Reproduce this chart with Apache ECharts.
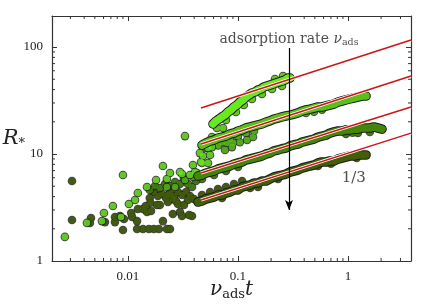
<!DOCTYPE html>
<html><head><meta charset="utf-8">
<script src="https://cdn.jsdelivr.net/npm/echarts@6/dist/echarts.min.js"></script>
<style>html,body{margin:0;padding:0;background:#fff}#c{width:436px;height:305px}</style>
</head><body><div id="c"></div>
<script>
// ---------- axes ----------
const X_MIN = 0.00204, X_MAX = 3.74;
const Y_MIN = 1, Y_MAX = 195;
const X_TICKS = [0.01, 0.1, 1];
const X_TICK_LABELS = ['0.01', '0.1', '1'];
const Y_TICKS = [1, 10, 100];
const Y_TICK_LABELS = ['1', '10', '100'];
const X_MINOR = [0.003,0.004,0.005,0.006,0.007,0.008,0.009,0.02,0.03,0.04,0.05,0.06,0.07,0.08,0.09,0.2,0.3,0.4,0.5,0.6,0.7,0.8,0.9,2,3];
const Y_MINOR = [2,3,4,5,6,7,8,9,20,30,40,50,60,70,80,90];

// ---------- data (nu_ads t, R*) ----------
// dense trajectories ("worms") read along each band
const A_PATH = [[0.0593,19.1],[0.0631,20.3],[0.0672,21.2],[0.0715,22.2],[0.0762,23.1],[0.0811,24.7],[0.0864,25.8],[0.0920,27.5],[0.0979,28.7],[0.104,30.6],[0.111,32.0],[0.118,34.1],[0.126,35.6],[0.134,37.2],[0.143,38.0],[0.152,39.6],[0.162,40.5],[0.172,42.3],[0.183,43.2],[0.195,44.1],[0.208,45.1],[0.222,46.1],[0.236,47.1],[0.251,48.1],[0.268,49.2],[0.285,51.3],[0.297,51.3]];
const A_EXTRA = [[0.0644,17.5],[0.0778,20.8],[0.0959,24.7],[0.113,28.7],[0.134,32.7],[0.165,36.4],[0.204,40.5],[0.251,43.2],[0.217,50.2],[0.257,53.6]];
const A_SCATTER = [[0.00267,1.68],[0.00424,2.27],[0.0058,2.36],[0.00605,2.81],[0.0073,3.27],[0.00864,2.58],[0.00901,6.36],[0.0102,3.41],[0.0116,3.72],[0.0123,4.32],[0.0149,4.92],[0.0180,5.71],[0.0208,7.73],[0.0226,5.84],[0.0297,6.79],[0.0310,6.50],[0.0330,14.7],[0.0366,6.36],[0.0390,7.89],[0.0406,6.79],[0.0424,6.64],[0.0241,6.64],[0.0461,8.42],[0.0481,9.58],[0.0471,8.24],[0.0534,11.4],[0.0534,8.24],[0.0557,9.79],[0.0580,11.6],[0.0451,10.2],[0.058,14.4],[0.0731,17.5]];
const B_PATH = [[0.0471,12.1],[0.0512,12.7],[0.0557,13.2],[0.0605,13.5],[0.0658,14.1],[0.0716,14.4],[0.0778,14.7],[0.0846,15.4],[0.0920,15.7],[0.100,16.4],[0.109,16.8],[0.118,17.5],[0.129,17.9],[0.140,18.3],[0.152,18.7],[0.165,19.1],[0.180,19.9],[0.195,20.4],[0.212,21.2],[0.231,21.7],[0.251,22.2],[0.273,22.7],[0.297,23.1],[0.323,23.6],[0.351,24.2],[0.382,25.2],[0.415,25.8],[0.451,26.3],[0.491,26.9],[0.534,27.5],[0.580,27.5],[0.631,28.1],[0.686,28.7],[0.746,29.3],[0.811,30.6],[0.882,31.3],[0.959,32.0],[1.04,32.7],[1.13,33.4],[1.23,34.1],[1.34,34.8],[1.46,34.8]];
const B_EXTRA = [[0.0512,11.4],[0.0605,12.1],[0.0716,12.9],[0.0846,13.8],[0.100,14.7],[0.118,15.7],[0.140,16.4],[0.415,24.2],[0.491,24.8],[0.580,26.0]];
const B_SCATTER = [[0.0794,12.7],[0.0901,12.7],[0.104,12.9],[0.121,13.5],[0.137,14.4],[0.0762,10.9],[0.0882,11.6],[0.0268,4.92],[0.0226,4.92],[0.0330,5.71],[0.0390,6.10],[0.0660,12.0]];
const C_PATH = [[0.0433,6.23],[0.0471,6.36],[0.0512,6.64],[0.0557,6.79],[0.0605,6.94],[0.0658,7.24],[0.0716,7.40],[0.0778,7.56],[0.0846,7.73],[0.0920,8.06],[0.100,8.24],[0.109,8.42],[0.118,8.79],[0.129,8.98],[0.140,9.18],[0.152,9.38],[0.165,9.58],[0.180,10.0],[0.195,10.2],[0.212,10.7],[0.231,10.9],[0.251,11.2],[0.273,11.4],[0.297,11.9],[0.323,12.2],[0.351,12.4],[0.382,12.9],[0.415,13.2],[0.451,13.5],[0.491,13.8],[0.534,14.4],[0.580,14.7],[0.631,15.0],[0.686,15.7],[0.746,16.1],[0.811,16.4],[0.882,16.4],[0.959,16.8],[1.04,16.8],[1.13,17.1],[1.23,17.1],[1.34,17.5],[1.46,17.5],[1.58,17.5],[1.72,17.9],[1.87,17.5],[2.04,17.1]];
const C_EXTRA = [[0.959,15.4],[1.23,15.7],[1.58,16.1],[1.10,15.8],[0.0471,5.84],[0.0605,6.36],[0.0778,6.94],[0.100,7.56]];
const C_SCATTER = [[0.0158,4.61],[0.0176,5.02],[0.0195,4.81],[0.0217,5.24],[0.0241,5.02],[0.0268,5.47],[0.0297,5.24],[0.0323,5.84],[0.0351,5.24],[0.0382,4.92],[0.0415,5.59],[0.0442,5.97],[0.0406,6.10]];
const D_PATH = [[0.0433,3.56],[0.0471,3.64],[0.0512,3.80],[0.0557,3.88],[0.0605,3.96],[0.0658,4.14],[0.0716,4.14],[0.0778,4.32],[0.0846,4.41],[0.0920,4.61],[0.100,4.61],[0.109,4.92],[0.118,5.02],[0.129,5.13],[0.140,5.36],[0.152,5.36],[0.165,5.59],[0.180,5.59],[0.195,5.84],[0.212,6.10],[0.231,6.23],[0.251,6.36],[0.273,6.50],[0.297,6.79],[0.323,6.94],[0.351,7.09],[0.382,7.40],[0.415,7.56],[0.451,7.73],[0.491,7.89],[0.534,8.24],[0.580,8.42],[0.631,8.42],[0.686,8.60],[0.746,8.60],[0.811,8.98],[0.882,9.18],[0.959,9.38],[1.04,9.58],[1.13,9.58],[1.23,9.79],[1.34,9.79],[1.46,9.79]];
const D_EXTRA = [[0.0471,4.14],[0.0557,4.41],[0.0658,4.71],[0.0778,4.92],[0.092,5.24],[0.109,5.59],[0.129,4.81],[0.152,4.92],[0.0716,3.88],[0.534,7.73],[0.231,5.84],[1.20,9.20],[0.70,8.10]];
const D_SCATTER = [[0.0158,3.88],[0.0172,4.41],[0.0187,4.05],[0.0204,4.23],[0.0222,3.88],[0.0241,4.32],[0.0262,4.05],[0.0285,4.41],[0.0310,4.14],[0.0337,4.41],[0.0366,4.05],[0.0398,3.80],[0.0351,3.72],[0.0323,3.34],[0.0273,3.64],[0.0231,3.56],[0.0195,3.34],[0.0183,3.34],[0.0231,4.14],
  [0.0031,5.59],[0.0031,2.42],[0.00461,2.52],[0.00451,2.27],[0.00618,2.31],[0.00762,2.58],[0.00762,2.31],[0.00846,2.63],[0.0092,2.47],[0.00901,1.95],[0.0107,2.81],[0.0109,2.58],[0.0121,2.36],[0.0121,1.99],[0.0137,3.06],[0.0137,1.99],[0.0149,2.87],[0.0155,1.99],[0.0162,2.93],[0.0172,1.99],[0.0191,1.99],[0.0208,2.36],[0.0226,1.99],[0.0241,1.99],[0.0256,2.75],[0.0297,2.87],[0.0310,2.63],[0.0359,2.69],[0.0382,2.63],[0.0256,3.80],[0.0285,3.41],[0.0123,3.06],[0.0145,3.27],[0.0160,3.50]];

// fitted slope-1/3 lines: x endpoints and R* at those endpoints
const FIT_X = [0.0461, 3.74];
const FIT_1 = [26.9, 116.3];
const FIT_2 = [12.4, 53.6];
const FIT_3 = [6.64, 27.5];
const FIT_4 = [3.72, 15.7];

// annotations
const ARROW_X = [0.291, 0.291];
const ARROW_Y = [97.9, 3.0];
const ANNOT_TOP = [0.291, 119];
const ANNOT_SLOPE = [1.13, 5.97];

const COLORS = {A:'#6ae81e', B:'#5abf16', C:'#44850a', D:'#425f08'};
const EDGE = '#1a1a1a';
const SERIF = '"Liberation Serif", "DejaVu Serif", serif';
const WSERIF = '"DejaVu Serif", "Liberation Serif", serif';
const AXC = '#333';

function fmt(ticks, labels) {
  return function (v) {
    for (let i = 0; i < ticks.length; i++) {
      if (Math.abs(Math.log10(v / ticks[i])) < 1e-6) return labels[i];
    }
    return '';
  };
}

function group(path, dots, color) {
  return [
    {type: 'line', data: path, symbol: 'none', silent: true, lineStyle: {color: EDGE, width: 9.6, cap: 'round', join: 'round'}},
    {type: 'scatter', data: dots, symbolSize: 8.6, itemStyle: {color: EDGE}, silent: true},
    {type: 'line', data: path, symbol: 'none', silent: true, lineStyle: {color: color, width: 7.6, cap: 'round', join: 'round'}},
    {type: 'scatter', data: dots, symbolSize: 6.6, itemStyle: {color: color}, silent: true}
  ];
}

function fitLine(ys) {
  const d = [[FIT_X[0], ys[0]], [FIT_X[1], ys[1]]];
  return [
    {type: 'line', data: d, symbol: 'none', lineStyle: {color: '#ffffff', width: 3.2}, silent: true},
    {type: 'line', data: d, symbol: 'none', lineStyle: {color: '#cc1414', width: 1.4}, silent: true}
  ];
}

const minorData = X_MINOR.map(v => [v, Y_MIN, 0]).concat(Y_MINOR.map(v => [X_MIN, v, 1]));

const series = []
  .concat(group(D_PATH, D_SCATTER.concat(D_EXTRA), COLORS.D))
  .concat(group(C_PATH, C_SCATTER.concat(C_EXTRA), COLORS.C))
  .concat(group(B_PATH, B_SCATTER.concat(B_EXTRA), COLORS.B))
  .concat(group(A_PATH, A_SCATTER.concat(A_EXTRA), COLORS.A))
  .concat(fitLine(FIT_1), fitLine(FIT_2), fitLine(FIT_3), fitLine(FIT_4));

series.push({
  type: 'line', data: [], silent: true,
  markLine: {
    silent: true, symbol: ['none', 'arrow'], symbolSize: [6, 10],
    label: {show: false},
    lineStyle: {color: '#000', width: 1.2, type: 'solid'},
    data: [[{coord: [ARROW_X[0], ARROW_Y[0]]}, {coord: [ARROW_X[1], ARROW_Y[1]]}]]
  }
});
series.push({
  type: 'scatter', data: [ANNOT_TOP], symbolSize: 0, silent: true,
  label: {
    show: true, position: 'inside',
    formatter: '{t|adsorption rate }{i|ν}{s|ads}',
    rich: {
      t: {fontFamily: WSERIF, fontSize: 14, color: '#222'},
      i: {fontFamily: WSERIF, fontSize: 14, fontStyle: 'italic', color: '#222'},
      s: {fontFamily: WSERIF, fontSize: 9.5, color: '#222', padding: [7, 0, 0, 0]}
    }
  }
});
series.push({
  type: 'scatter', data: [ANNOT_SLOPE], symbolSize: 0, silent: true,
  label: {show: true, position: 'inside', formatter: '1/3', fontFamily: WSERIF, fontSize: 15, color: '#222'}
});
series.push({
  type: 'custom', data: minorData, silent: true, z: 10,
  renderItem: function (params, api) {
    const cs = params.coordSys;
    const kind = api.value(2);
    const p = api.coord([api.value(0), api.value(1)]);
    const L = 3;
    const style = {stroke: AXC, lineWidth: 1};
    if (kind === 0) {
      return {type: 'group', children: [
        {type: 'line', shape: {x1: p[0], y1: cs.y + cs.height, x2: p[0], y2: cs.y + cs.height - L}, style: style},
        {type: 'line', shape: {x1: p[0], y1: cs.y, x2: p[0], y2: cs.y + L}, style: style}
      ]};
    }
    return {type: 'group', children: [
      {type: 'line', shape: {x1: cs.x, y1: p[1], x2: cs.x + L, y2: p[1]}, style: style},
      {type: 'line', shape: {x1: cs.x + cs.width, y1: p[1], x2: cs.x + cs.width - L, y2: p[1]}, style: style}
    ]};
  }
});

const axisCommon = {
  type: 'log', logBase: 10,
  axisLine: {show: true, lineStyle: {color: AXC, width: 1.2}},
  axisTick: {show: true, inside: true, length: 5, lineStyle: {color: AXC, width: 1}},
  splitLine: {show: false}, minorTick: {show: false}, minorSplitLine: {show: false}
};

const option = {
  animation: false,
  backgroundColor: '#fff',
  grid: {left: 52, right: 25, top: 16, bottom: 44, containLabel: false, outerBoundsMode: 'none'},
  xAxis: [
    Object.assign({}, axisCommon, {
      min: X_MIN, max: X_MAX, position: 'bottom',
      axisLabel: {formatter: fmt(X_TICKS, X_TICK_LABELS), margin: 9, fontFamily: SERIF, fontSize: 13, color: '#222'},
      name: '{i|ν}{s|ads}{i|t}', nameLocation: 'middle', nameGap: 18, nameMoveOverlap: false,
      nameTextStyle: {verticalAlign: 'top', rich: {
        i: {fontFamily: WSERIF, fontSize: 20, fontStyle: 'italic', color: '#222'},
        s: {fontFamily: WSERIF, fontSize: 13, color: '#222', padding: [9, 0, 0, 0]}
      }}
    }),
    Object.assign({}, axisCommon, {min: X_MIN, max: X_MAX, position: 'top', axisLabel: {show: false}})
  ],
  yAxis: [
    Object.assign({}, axisCommon, {
      min: Y_MIN, max: Y_MAX, position: 'left',
      axisLabel: {formatter: fmt(Y_TICKS, Y_TICK_LABELS), margin: 9, fontFamily: SERIF, fontSize: 13, color: '#222'},
      name: '{i|R}{s|*}', nameLocation: 'middle', nameRotate: 0, nameGap: 27, nameMoveOverlap: false,
      nameTextStyle: {rich: {
        i: {fontFamily: WSERIF, fontSize: 21, fontStyle: 'italic', color: '#222'},
        s: {fontFamily: WSERIF, fontSize: 13, color: '#222', padding: [10, 0, 0, 0]}
      }}
    }),
    Object.assign({}, axisCommon, {min: Y_MIN, max: Y_MAX, position: 'right', axisLabel: {show: false}})
  ],
  series: series
};

const chart = echarts.init(document.getElementById('c'), null, {renderer: 'canvas'});
chart.setOption(option);
</script>
</body></html>
